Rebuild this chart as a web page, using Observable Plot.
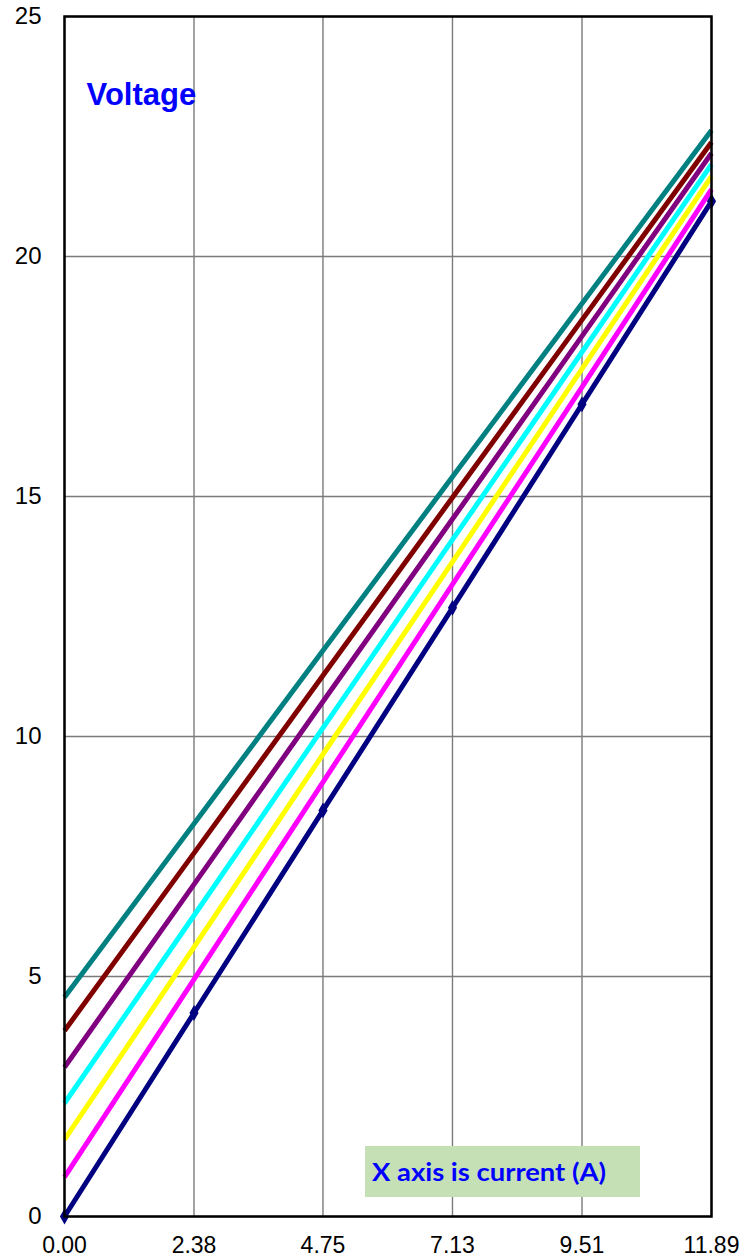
<!DOCTYPE html>
<html>
<head>
<meta charset="utf-8">
<script src="https://cdn.jsdelivr.net/npm/d3@7"></script>
<script src="https://cdn.jsdelivr.net/npm/@observablehq/plot@0.6"></script>
<style>
  html, body { margin: 0; padding: 0; background: #fff; }
  #wrap { position: relative; width: 755px; height: 1258px; }
  #note {
    position: absolute; left: 365px; top: 1146px; width: 275px; height: 51px;
    background: #C5E0B4; color: #0000FF; font-family: Lato, "Open Sans", sans-serif;
    font-weight: bold; font-size: 25px; line-height: 51px; white-space: nowrap;
    box-sizing: border-box; padding-left: 7px;
  }
  #note span { display: inline-block; transform-origin: left center; }
  svg text { font-family: "Liberation Sans", Arial, sans-serif; }
</style>
</head>
<body>
<div id="wrap"><div id="note"><span id="noteText"></span></div></div>
<script>
const current = [0, 2.38, 4.75, 7.13, 9.51, 11.89];
const xTicks = [0, 2.38, 4.75, 7.13, 9.51, 11.89];
const yTicks = [0, 5, 10, 15, 20, 25];
const seriesNames = ["s1", "s2", "s3", "s4", "s5", "s6", "s7"];
const seriesColors = ["#000080", "#FF00FF", "#FFFF00", "#00FFFF", "#800080", "#800000", "#008080"];
const s1 = [0, 4.24, 8.46, 12.68, 16.92, 21.15];
const s2 = [0.82, 4.94, 9.05, 13.17, 17.28, 21.40];
const s3 = [1.60, 5.61, 9.63, 13.64, 17.66, 21.67];
const s4 = [2.36, 6.27, 10.18, 14.10, 18.01, 21.92];
const s5 = [3.11, 6.92, 10.73, 14.53, 18.34, 22.15];
const s6 = [3.87, 7.57, 11.27, 14.98, 18.68, 22.38];
const s7 = [4.57, 8.18, 11.79, 15.41, 19.02, 22.63];
const titleText = "Voltage";
const noteText = "X axis is current (A)";

const allSeries = [s1, s2, s3, s4, s5, s6, s7];
const rows = [];
allSeries.forEach((vals, i) => vals.forEach((v, j) => rows.push({series: seriesNames[i], x: current[j], y: v})));
const markerRows = rows.filter(d => d.series === "s1");
const FONT = "'Liberation Sans', Arial, sans-serif";

const chart = Plot.plot({
  width: 755,
  height: 1258,
  marginLeft: 64,
  marginRight: 44,
  marginTop: 16,
  marginBottom: 42,
  style: {fontFamily: FONT, background: "white", color: "black"},
  x: {domain: [0, 11.89], label: null},
  y: {domain: [0, 25], label: null},
  color: {domain: seriesNames, range: seriesColors},
  marks: [
    Plot.gridX(xTicks, {stroke: "#7a7a7a", strokeOpacity: 1, strokeWidth: 1.4}),
    Plot.gridY(yTicks, {stroke: "#7a7a7a", strokeOpacity: 1, strokeWidth: 1.4}),
    Plot.axisX({ticks: xTicks, tickFormat: d => d.toFixed(2), tickSize: 0, tickPadding: 20, fontSize: 23, label: null, fontFamily: FONT}),
    Plot.axisY({ticks: yTicks, tickFormat: d => String(d), tickSize: 0, tickPadding: 23, fontSize: 24, label: null, fontFamily: FONT}),
    Plot.line(rows, {x: "x", y: "y", z: "series", stroke: "series", strokeWidth: 5, strokeLinecap: "butt"}),
    Plot.dot(markerRows, {x: "x", y: "y", symbol: "diamond", r: 4.8, fill: "#000080"}),
    Plot.frame({stroke: "black", strokeWidth: 2.5}),
    Plot.text([titleText], {frameAnchor: "top-left", dx: 22, dy: 79, text: d => d, textAnchor: "start", lineAnchor: "middle", fill: "#0000FF", fontWeight: "bold", fontSize: 31, fontFamily: FONT})
  ]
});
chart.style.position = "absolute";
chart.style.left = "0";
chart.style.top = "0";
const wrap = document.getElementById("wrap");
wrap.insertBefore(chart, wrap.firstChild);
const sp = document.getElementById("noteText");
sp.textContent = noteText;
const w = sp.getBoundingClientRect().width;
sp.style.transform = `scaleX(${234 / w})`;
</script>
</body>
</html>
